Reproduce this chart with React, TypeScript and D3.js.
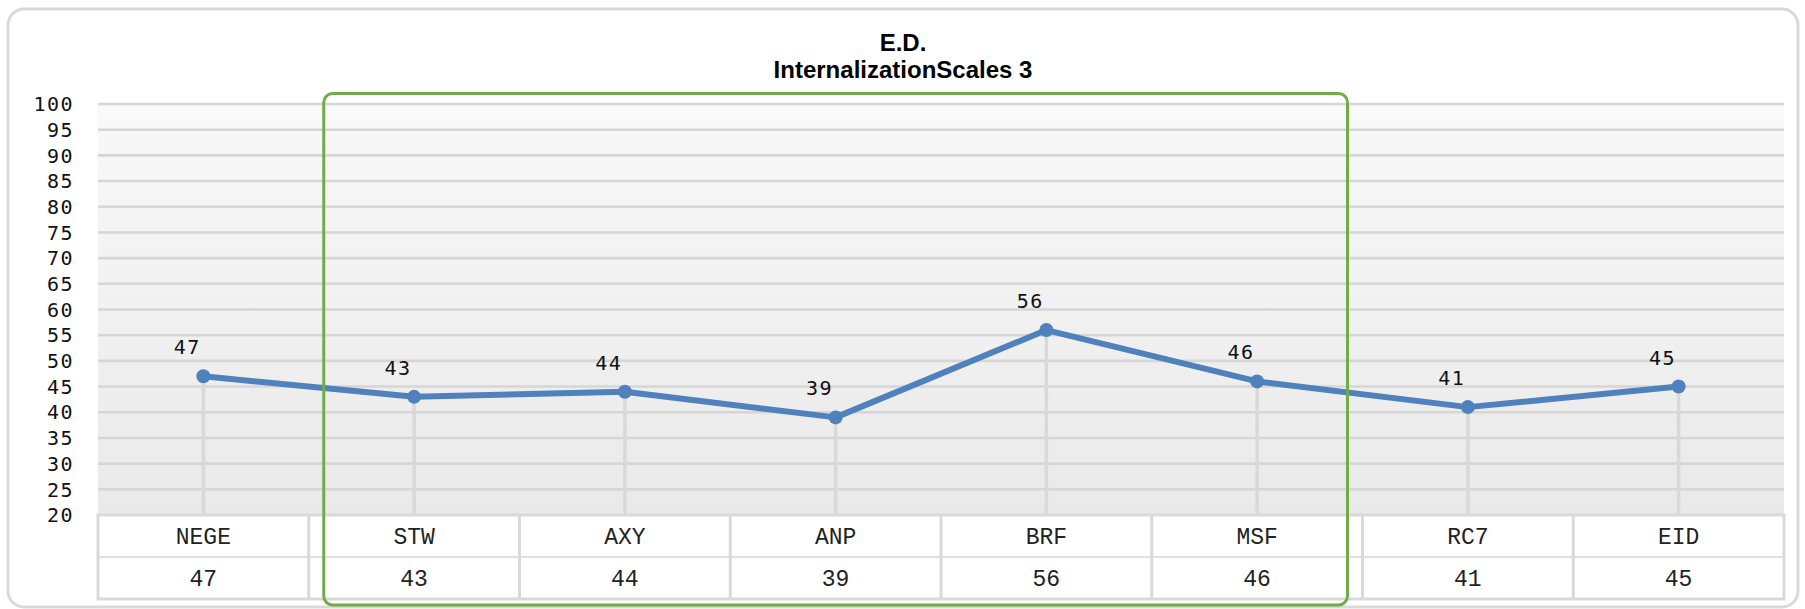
import React from "react";
import * as d3 from "d3";

const titleLines = ["E.D.", "InternalizationScales 3"];
const categories = ["NEGE", "STW", "AXY", "ANP", "BRF", "MSF", "RC7", "EID"];
const values = [47, 43, 44, 39, 56, 46, 41, 45];
const yTicks = [20, 25, 30, 35, 40, 45, 50, 55, 60, 65, 70, 75, 80, 85, 90, 95, 100];
const highlightRange = ["STW", "MSF"];

const W = 1805;
const H = 609;
const plotLeft = 98;
const plotRight = 1784;
const plotTop = 104;
const plotBottom = 515;
const rowH = 42;
const mono = "'Liberation Mono', 'Courier New', monospace";
const sansMono = "'DejaVu Sans Mono', monospace";

export default function App() {
  const x = d3.scaleBand<string>().domain(categories).range([plotLeft, plotRight]).padding(0);
  const y = d3.scaleLinear().domain([20, 100]).range([plotBottom, plotTop]);
  const bw = x.bandwidth();
  const cx = (c: string) => (x(c) as number) + bw / 2;
  const pts: [number, number][] = categories.map((c, i) => [cx(c), y(values[i])]);
  const line = d3.line<[number, number]>()(pts) || "";

  const gLeft = (x(highlightRange[0]) as number) + 15;
  const gRight = (x(highlightRange[1]) as number) + bw - 15;

  return (
    <svg width={W} height={H} style={{ position: "absolute", left: 0, top: 0, display: "block" }}>
      <defs>
        <linearGradient id="bg" x1="0" y1="0" x2="0" y2="1">
          <stop offset="0" stopColor="#f9f9f9" />
          <stop offset="1" stopColor="#e9e9e9" />
        </linearGradient>
      </defs>
      <rect x={0} y={0} width={W} height={H} fill="#ffffff" />
      <rect x={8} y={9} width={1790} height={598} rx={16} ry={16} fill="#ffffff" stroke="#d9d9d9" strokeWidth={3} />
      {titleLines.map((t, i) => (
        <text key={t} x={903} y={51 + i * 26.5} textAnchor="middle" fontFamily="'Liberation Sans', Arial, sans-serif" fontWeight="bold" fontSize={24} fill="#000">
          {t}
        </text>
      ))}
      <rect x={plotLeft} y={plotTop} width={plotRight - plotLeft} height={plotBottom - plotTop} fill="url(#bg)" />
      {yTicks.map((t) => (
        <g key={t}>
          {t > 20 && (
            <line x1={plotLeft} x2={plotRight} y1={y(t)} y2={y(t)} stroke="#d6d6d6" strokeWidth={2.6} />
          )}
          <text x={74} y={y(t)} dy="0.36em" textAnchor="end" fontFamily={sansMono} fontSize={20} letterSpacing={1.5} fill="#111">
            {t}
          </text>
        </g>
      ))}
      {pts.map(([px, py], i) => (
        <line key={"d" + i} x1={px} x2={px} y1={py} y2={plotBottom} stroke="#d9d9d9" strokeWidth={3.5} />
      ))}
      <path d={line} fill="none" stroke="#4f81bd" strokeWidth={6} strokeLinejoin="round" />
      {pts.map(([px, py], i) => (
        <circle key={"c" + i} cx={px} cy={py} r={7} fill="#4f81bd" />
      ))}
      {pts.map(([px, py], i) => (
        <text key={"l" + i} x={px - 16} y={py - 22} textAnchor="middle" fontFamily={sansMono} fontSize={20} letterSpacing={1.5} fill="#111">
          {values[i]}
        </text>
      ))}
      {/* data table */}
      <rect x={plotLeft} y={plotBottom} width={plotRight - plotLeft} height={rowH * 2} fill="#ffffff" />
      <line x1={plotLeft} x2={plotRight} y1={plotBottom + rowH} y2={plotBottom + rowH} stroke="#e0e0e0" strokeWidth={2} />
      {categories.map((c, i) => (
        <g key={"t" + c}>
          {i > 0 && (
            <line x1={x(c) as number} x2={x(c) as number} y1={plotBottom} y2={plotBottom + rowH * 2} stroke="#d9d9d9" strokeWidth={3} />
          )}
          <text x={cx(c)} y={plotBottom + rowH / 2} dy="0.35em" textAnchor="middle" fontFamily={mono} fontSize={23} fill="#222">
            {c}
          </text>
          <text x={cx(c)} y={plotBottom + rowH * 1.5} dy="0.35em" textAnchor="middle" fontFamily={mono} fontSize={23} fill="#222">
            {values[i]}
          </text>
        </g>
      ))}
      <rect x={plotLeft} y={plotBottom} width={plotRight - plotLeft} height={rowH * 2} fill="none" stroke="#d9d9d9" strokeWidth={3} />
      <rect x={gLeft} y={93.5} width={gRight - gLeft} height={605 - 93.5} rx={9} ry={9} fill="none" stroke="#70ad47" strokeWidth={3} />
    </svg>
  );
}
